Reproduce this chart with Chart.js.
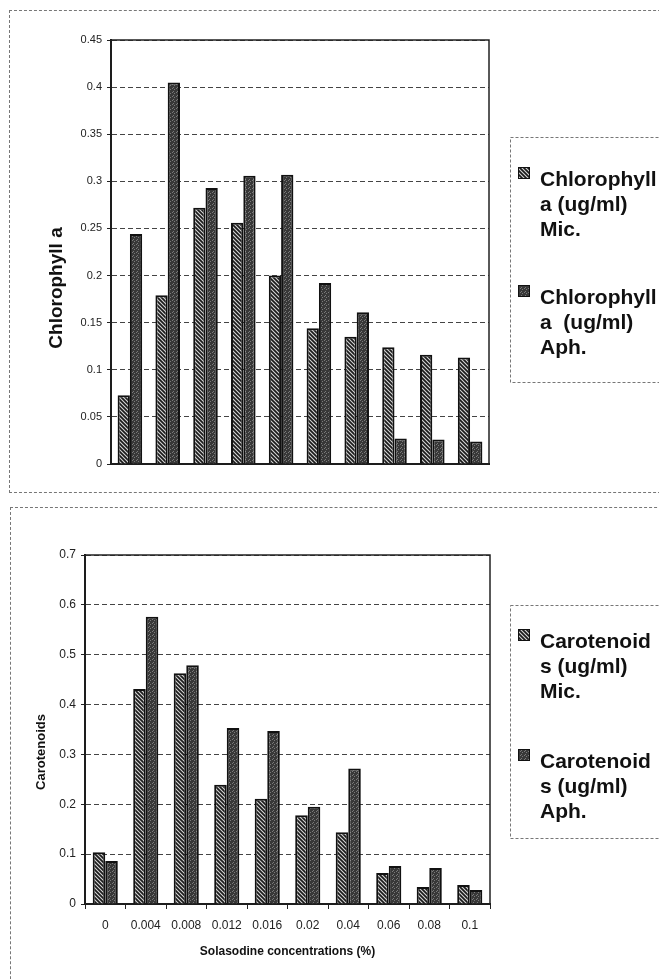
<!doctype html>
<html>
<head>
<meta charset="UTF-8">
<title>Chlorophyll a and Carotenoids</title>
<script src="https://cdn.jsdelivr.net/npm/chart.js@4.4.1/dist/chart.umd.min.js"></script>
<style>
  body { margin: 0; background: #fff; width: 659px; height: 979px; overflow: hidden; position: relative; }
  .frame { position: absolute; border: 1px dashed #777; }
  canvas { position: absolute; left: 0; }
</style>
</head>
<body>
<div class="frame" style="left:9px;top:10px;width:700px;height:481px"></div>
<div class="frame" style="left:10px;top:507px;width:700px;height:600px"></div>
<canvas id="chl" width="659" height="495" style="top:0"></canvas>
<canvas id="car" width="659" height="484" style="top:495px"></canvas>
<script>
const concLabels = ['0', '0.004', '0.008', '0.012', '0.016', '0.02', '0.04', '0.06', '0.08', '0.1']
const chlMic = [0.073, 0.179, 0.272, 0.256, 0.200, 0.144, 0.135, 0.124, 0.116, 0.113]
const chlAph = [0.244, 0.405, 0.293, 0.306, 0.307, 0.192, 0.161, 0.027, 0.026, 0.024]
const carMic = [0.104, 0.431, 0.463, 0.239, 0.211, 0.178, 0.144, 0.062, 0.034, 0.038]
const carAph = [0.086, 0.576, 0.479, 0.353, 0.347, 0.195, 0.272, 0.076, 0.072, 0.028]

const FONT = "'Liberation Sans', Arial, sans-serif"

// striped fill for Mic., dotted dark fill for Aph.
function hatch () {
  const c = document.createElement('canvas')
  c.width = 4; c.height = 4
  const g = c.getContext('2d')
  g.fillStyle = '#d4d4d4'
  g.fillRect(0, 0, 4, 4)
  g.strokeStyle = '#1a1a1a'
  g.lineWidth = 1.7
  g.beginPath()
  g.moveTo(-1, -1); g.lineTo(5, 5)
  g.moveTo(3, -1); g.lineTo(5, 1)
  g.moveTo(-1, 3); g.lineTo(1, 5)
  g.stroke()
  return g.createPattern(c, 'repeat')
}

function stipple () {
  const c = document.createElement('canvas')
  c.width = 4; c.height = 4
  const g = c.getContext('2d')
  g.fillStyle = '#383838'
  g.fillRect(0, 0, 4, 4)
  g.fillStyle = '#7a7a7a'
  for (const [x, y] of [[0, 0], [2, 1], [1, 3]]) g.fillRect(x, y, 1, 1)
  return g.createPattern(c, 'repeat')
}

const plotBox = {
  id: 'plotBox',
  beforeDatasetsDraw (chart) {
    const { ctx, chartArea: a } = chart
    ctx.save()
    ctx.strokeStyle = '#222'
    ctx.lineWidth = 1.5
    ctx.strokeRect(a.left, a.top, a.right - a.left, a.bottom - a.top)
    ctx.restore()
  }
}

// side legend with wrapped labels, and the y title (sits a bit below centre)
const sideBits = {
  id: 'sideBits',
  afterDraw (chart, args, o) {
    const ctx = chart.ctx
    ctx.save()
    ctx.setLineDash([3, 2])
    ctx.strokeStyle = '#777'
    ctx.lineWidth = 1
    ctx.strokeRect(o.box[0] + 0.5, o.box[1] + 0.5, o.box[2], o.box[3])
    ctx.setLineDash([])
    ctx.font = 'bold 21px ' + FONT
    ctx.textBaseline = 'alphabetic'
    chart.data.datasets.forEach((ds, i) => {
      const base = o.firstBase + i * o.entryGap
      ctx.fillStyle = ds.backgroundColor
      ctx.fillRect(518, base - 19, 12, 12)
      ctx.strokeStyle = '#111'
      ctx.lineWidth = 1
      ctx.strokeRect(518.5, base - 18.5, 11, 11)
      ctx.fillStyle = '#111'
      ds.label.split('\n').forEach((t, j) => ctx.fillText(t, 540, base + j * o.lineGap))
    })
    ctx.translate(o.title.x, o.title.y)
    ctx.rotate(-Math.PI / 2)
    ctx.font = 'bold ' + o.title.size + 'px ' + FONT
    ctx.textAlign = 'center'
    ctx.textBaseline = 'middle'
    ctx.fillText(o.title.text, 0, 0)
    ctx.restore()
  }
}

function makeChart (id, mic, aph, labels, opt) {
  return new Chart(document.getElementById(id), {
    type: 'bar',
    data: {
      labels: concLabels,
      datasets: [
        { label: labels[0], data: mic, backgroundColor: hatch(), borderColor: '#111', borderWidth: 2 },
        { label: labels[1], data: aph, backgroundColor: stipple(), borderColor: '#111', borderWidth: 2 }
      ]
    },
    options: {
      responsive: false,
      animation: false,
      events: [],
      categoryPercentage: opt.catPct,
      barPercentage: 1,
      layout: { padding: { left: 0, right: opt.right, top: opt.top, bottom: 0 } },
      plugins: {
        legend: { display: false },
        tooltip: { enabled: false },
        sideBits: opt.side
      },
      scales: {
        x: {
          afterFit: s => { s.height = opt.xHeight },
          grid: { display: opt.xTicks, drawOnChartArea: false, tickLength: 5, color: '#222' },
          border: { display: true, color: '#111', width: 2 },
          ticks: { display: opt.xTicks, padding: 9, color: '#222', font: { family: FONT, size: 12 } },
          title: {
            display: !!opt.xTitle,
            text: opt.xTitle || '',
            color: '#111',
            font: { family: FONT, size: 12, weight: 'bold' },
            padding: { top: 0, bottom: 20 }
          }
        },
        y: {
          min: 0,
          max: opt.max,
          afterFit: s => { s.width = opt.yWidth },
          ticks: {
            stepSize: opt.step,
            padding: 5,
            color: '#222',
            font: { family: FONT, size: opt.tickSize },
            callback: v => String(Number(v.toFixed(3)))
          },
          grid: { color: '#444', lineWidth: 1, tickLength: 4, tickColor: '#222' },
          border: { display: true, color: '#111', width: 2, dash: [5, 3] }
        }
      }
    },
    plugins: [plotBox, sideBits]
  })
}

makeChart('chl', chlMic, chlAph,
  ['Chlorophyll\na (ug/ml)\nMic.', 'Chlorophyll\na  (ug/ml)\nAph.'],
  {
    catPct: 0.65, right: 170, top: 40, xHeight: 31, xTicks: false, max: 0.45, step: 0.05,
    yWidth: 111, tickSize: 11,
    side: { box: [510, 137, 200, 245], firstBase: 186, entryGap: 118, lineGap: 25,
      title: { text: 'Chlorophyll a', x: 57, y: 288, size: 19 } }
  })

makeChart('car', carMic, carAph,
  ['Carotenoid\ns (ug/ml)\nMic.', 'Carotenoid\ns (ug/ml)\nAph.'],
  {
    catPct: 0.62, right: 169, top: 60, xHeight: 75, xTicks: true, max: 0.7, step: 0.1,
    yWidth: 85, tickSize: 12, xTitle: 'Solasodine concentrations (%)',
    side: { box: [510, 110, 200, 233], firstBase: 153, entryGap: 120, lineGap: 25,
      title: { text: 'Carotenoids', x: 41, y: 257, size: 13 } }
  })
</script>
</body>
</html>
